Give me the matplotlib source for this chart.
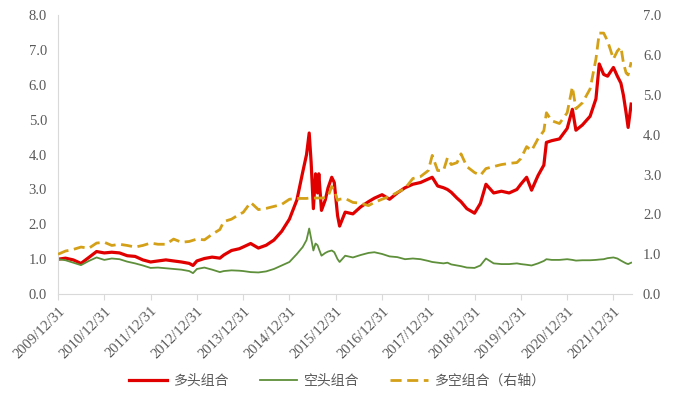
import pandas as pd
import matplotlib.pyplot as plt

plt.rcParams['font.family'] = ['Liberation Serif', 'Noto Sans CJK SC', 'DejaVu Sans']

dates = ["2009-12-31", "2010-02-28", "2010-04-30", "2010-06-30", "2010-08-31", "2010-10-31", "2010-12-31",
         "2011-02-28", "2011-04-30", "2011-06-30", "2011-08-31", "2011-10-31", "2011-12-31",
         "2012-02-28", "2012-04-30", "2012-06-30", "2012-08-31", "2012-10-31", "2012-11-30", "2012-12-31",
         "2013-02-28", "2013-04-30", "2013-06-30", "2013-07-31", "2013-09-30", "2013-11-30", "2013-12-31",
         "2014-02-28", "2014-04-30", "2014-06-30", "2014-08-31", "2014-10-31", "2014-12-31",
         "2015-02-28", "2015-04-15", "2015-05-15", "2015-06-05", "2015-06-20", "2015-07-08", "2015-07-25",
         "2015-08-10", "2015-08-20", "2015-09-10", "2015-10-10", "2015-11-01", "2015-11-30", "2015-12-20",
         "2016-01-15", "2016-01-31", "2016-03-15", "2016-05-15", "2016-07-15", "2016-09-15", "2016-10-31", "2016-12-31",
         "2017-02-28", "2017-04-30", "2017-06-30", "2017-08-31", "2017-10-31", "2017-12-31",
         "2018-01-31", "2018-03-15", "2018-04-30", "2018-05-31", "2018-06-30", "2018-08-15", "2018-09-15", "2018-10-31", "2018-12-31",
         "2019-02-15", "2019-03-31", "2019-05-31", "2019-07-31", "2019-09-30", "2019-11-30", "2019-12-31",
         "2020-02-15", "2020-03-25", "2020-05-15", "2020-06-30", "2020-07-20", "2020-08-31", "2020-10-31", "2020-12-31",
         "2021-02-10", "2021-03-10", "2021-04-30", "2021-06-30", "2021-08-15", "2021-09-10", "2021-10-15", "2021-11-15", "2021-12-31",
         "2022-01-31", "2022-02-28", "2022-03-20", "2022-04-10", "2022-04-26", "2022-05-20"]

# 多头组合 (left axis)
long_nav = [1.00, 1.03, 0.98, 0.88, 1.05, 1.22, 1.18,
            1.20, 1.18, 1.10, 1.08, 0.98, 0.92,
            0.95, 0.98, 0.95, 0.92, 0.88, 0.82, 0.95,
            1.02, 1.06, 1.03, 1.12, 1.25, 1.30, 1.35,
            1.45, 1.32, 1.40, 1.55, 1.80, 2.15,
            2.70, 3.50, 4.00, 4.62, 3.80, 2.45, 3.45,
            2.90, 3.45, 2.40, 2.70, 3.05, 3.35, 3.20,
            2.25, 1.95, 2.35, 2.30, 2.50, 2.65, 2.75, 2.85,
            2.72, 2.90, 3.05, 3.15, 3.20, 3.30,
            3.35, 3.10, 3.05, 3.00, 2.92, 2.75, 2.65, 2.45, 2.32,
            2.60, 3.15, 2.90, 2.95, 2.90, 3.00, 3.15,
            3.35, 2.98, 3.40, 3.70, 4.35, 4.40, 4.45, 4.75,
            5.30, 4.70, 4.85, 5.10, 5.60, 6.60, 6.30, 6.25, 6.50,
            6.25, 6.05, 5.70, 5.20, 4.78, 5.45]

# 空头组合 (left axis)
short_nav = [1.00, 0.97, 0.90, 0.83, 0.95, 1.05, 0.98,
             1.02, 1.00, 0.93, 0.88, 0.82, 0.75,
             0.76, 0.74, 0.72, 0.70, 0.66, 0.60, 0.72,
             0.76, 0.70, 0.63, 0.66, 0.68, 0.67, 0.66,
             0.63, 0.62, 0.65, 0.72, 0.82, 0.92,
             1.15, 1.35, 1.55, 1.88, 1.60, 1.25, 1.45,
             1.40, 1.30, 1.10, 1.18, 1.22, 1.25, 1.20,
             1.00, 0.92, 1.10, 1.05, 1.12, 1.18, 1.20, 1.15,
             1.08, 1.06, 1.00, 1.02, 1.00, 0.95,
             0.92, 0.90, 0.88, 0.90, 0.85, 0.82, 0.80, 0.76, 0.75,
             0.82, 1.02, 0.88, 0.86, 0.86, 0.88, 0.86,
             0.84, 0.82, 0.88, 0.95, 1.00, 0.98, 0.98, 1.00,
             0.98, 0.96, 0.97, 0.97, 0.98, 0.99, 1.00, 1.03, 1.05,
             1.02, 0.96, 0.92, 0.88, 0.86, 0.90]

# 多空组合 (right axis)
ls_nav = [1.00, 1.08, 1.12, 1.18, 1.15, 1.28, 1.30,
          1.22, 1.25, 1.22, 1.18, 1.22, 1.28,
          1.25, 1.25, 1.38, 1.30, 1.32, 1.35, 1.38,
          1.36, 1.50, 1.62, 1.82, 1.88, 2.00, 2.05,
          2.30, 2.12, 2.15, 2.20, 2.25, 2.38,
          2.40, 2.40, 2.40, 2.41, 2.41, 2.41, 2.41,
          2.41, 2.41, 2.41, 2.42, 2.45, 2.70, 2.60,
          2.35, 2.38, 2.40, 2.30, 2.28, 2.22, 2.30, 2.38,
          2.45, 2.55, 2.65, 2.90, 2.95, 3.10,
          3.48, 3.10, 3.10, 3.42, 3.25, 3.30, 3.52, 3.20, 3.05,
          2.98, 3.15, 3.20, 3.25, 3.28, 3.30, 3.40,
          3.70, 3.60, 3.90, 4.10, 4.55, 4.35, 4.28, 4.55,
          5.20, 4.65, 4.80, 5.15, 5.90, 6.55, 6.55, 6.35, 5.90,
          6.10, 6.20, 5.80, 5.55, 5.50, 5.82]

tick_years = list(range(2009, 2022))

df = pd.DataFrame({"date": pd.to_datetime(dates), "long": long_nav,
                   "short": short_nav, "ls": ls_nav})

fig, ax = plt.subplots(figsize=(6.75, 3.99), dpi=100)
fig.subplots_adjust(left=0.086, right=0.936, top=0.962, bottom=0.263)
ax2 = ax.twinx()

l1, = ax.plot(df["date"], df["long"], color="#e00000", lw=2.3, label="多头组合")
l2, = ax.plot(df["date"], df["short"], color="#5e8f3a", lw=1.3, label="空头组合")
l3, = ax2.plot(df["date"], df["ls"], color="#d4a017", lw=2.0, dashes=(4, 2),
               label="多空组合（右轴）")

ax.set_ylim(0, 8)
ax2.set_ylim(0, 7)
ax.set_yticks(range(0, 9))
ax2.set_yticks(range(0, 8))
ax.yaxis.set_major_formatter(plt.FormatStrFormatter("%.1f"))
ax2.yaxis.set_major_formatter(plt.FormatStrFormatter("%.1f"))

ax.set_xlim(pd.Timestamp("2009-12-31"), pd.Timestamp("2022-05-25"))
ticks = [pd.Timestamp(f"{y}-12-31") for y in tick_years]
ax.set_xticks(ticks)
ax.set_xticklabels([f"{y}/12/31" for y in tick_years], rotation=45, ha="right",
                   rotation_mode="anchor")

for a in (ax, ax2):
    for s in ("top", "right", "left", "bottom"):
        a.spines[s].set_visible(False)
ax.spines["left"].set_visible(True)
ax.spines["bottom"].set_visible(True)
ax.spines["left"].set_color("#d9d9d9")
ax.spines["bottom"].set_color("#d9d9d9")

ax.tick_params(axis="x", colors="#595959", labelsize=10.5, length=4, color="#d9d9d9")
ax.tick_params(axis="y", colors="#595959", labelsize=10.5, length=0, pad=8)
ax2.tick_params(axis="y", colors="#595959", labelsize=10.5, length=0, pad=8)

fig.legend(handles=[l1, l2, l3], loc="center", bbox_to_anchor=(0.5, 0.045), ncol=3,
           frameon=False, handlelength=2.7, columnspacing=2.2, handletextpad=0.5,
           prop={"family": ["Noto Sans CJK SC"], "size": 10}, labelcolor="#595959")

fig.savefig("out.png", dpi=100)
